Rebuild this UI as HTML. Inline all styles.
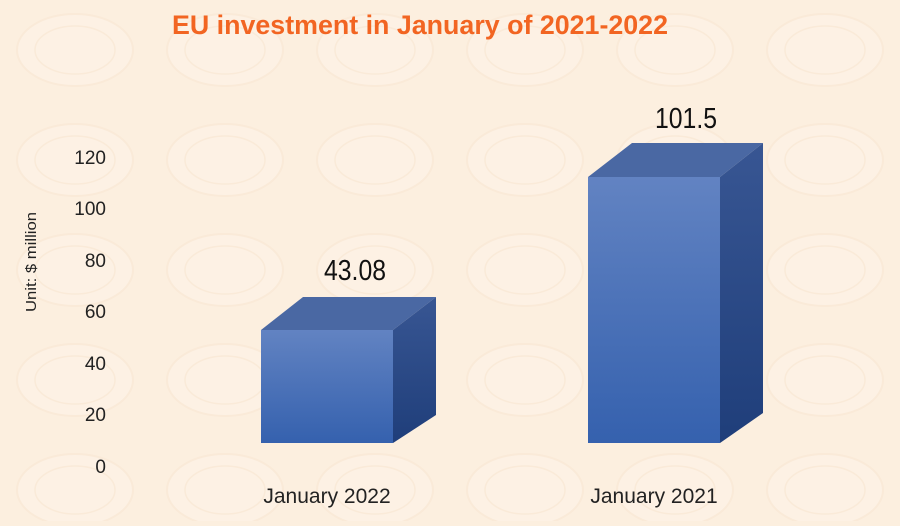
<!DOCTYPE html>
<html><head><style>
body{margin:0;width:900px;height:521px;overflow:hidden;background:#fcefdf;font-family:"Liberation Sans",sans-serif}
</style></head><body>
<svg width="900" height="521" xmlns="http://www.w3.org/2000/svg">
<defs>
<linearGradient id="f" x1="0" y1="0" x2="0" y2="1"><stop offset="0" stop-color="#6283c2"/><stop offset="1" stop-color="#3561ae"/></linearGradient>
<linearGradient id="s" x1="0" y1="0" x2="0" y2="1"><stop offset="0" stop-color="#385693"/><stop offset="1" stop-color="#1f3e7a"/></linearGradient>
<pattern id="c" width="150" height="110" patternUnits="userSpaceOnUse">
<ellipse cx="75" cy="50" rx="58" ry="36" fill="#fdf3e8" stroke="#f8e6d3" stroke-width="2"/>
<ellipse cx="75" cy="50" rx="40" ry="24" fill="none" stroke="#f8e6d3" stroke-width="1.5"/>
</pattern>
</defs>
<rect width="900" height="521" fill="#fcefdf"/>
<rect width="900" height="521" fill="url(#c)" opacity="0.6"/>
<text x="420" y="34" text-anchor="middle" font-size="27" font-weight="bold" fill="#f26522" textLength="496" lengthAdjust="spacingAndGlyphs">EU investment in January of 2021-2022</text>
<g font-size="19" fill="#222" text-anchor="end">
<text x="106" y="473">0</text><text x="106" y="421">20</text><text x="106" y="370">40</text>
<text x="106" y="318">60</text><text x="106" y="267">80</text><text x="106" y="215">100</text><text x="106" y="164">120</text>
</g>
<text transform="translate(36,262) rotate(-90)" text-anchor="middle" font-size="15" fill="#222" textLength="100" lengthAdjust="spacingAndGlyphs">Unit: $ million</text>
<polygon points="261,330 303,297 436,297 393,330" fill="#4a68a3"/>
<polygon points="393,330 436,297 436,415 393,443" fill="url(#s)"/>
<rect x="261" y="330" width="132" height="113" fill="url(#f)"/>
<polygon points="588,177 632,143 763,143 720,177" fill="#4a68a3"/>
<polygon points="720,177 763,143 763,413 720,443" fill="url(#s)"/>
<rect x="588" y="177" width="132" height="266" fill="url(#f)"/>
<text x="355" y="280" text-anchor="middle" font-size="29" fill="#111" textLength="62" lengthAdjust="spacingAndGlyphs">43.08</text>
<text x="686" y="128" text-anchor="middle" font-size="29" fill="#111" textLength="62" lengthAdjust="spacingAndGlyphs">101.5</text>
<text x="327" y="503" text-anchor="middle" font-size="21" fill="#222">January 2022</text>
<text x="654" y="503" text-anchor="middle" font-size="21" fill="#222">January 2021</text>
</svg>
</body></html>
